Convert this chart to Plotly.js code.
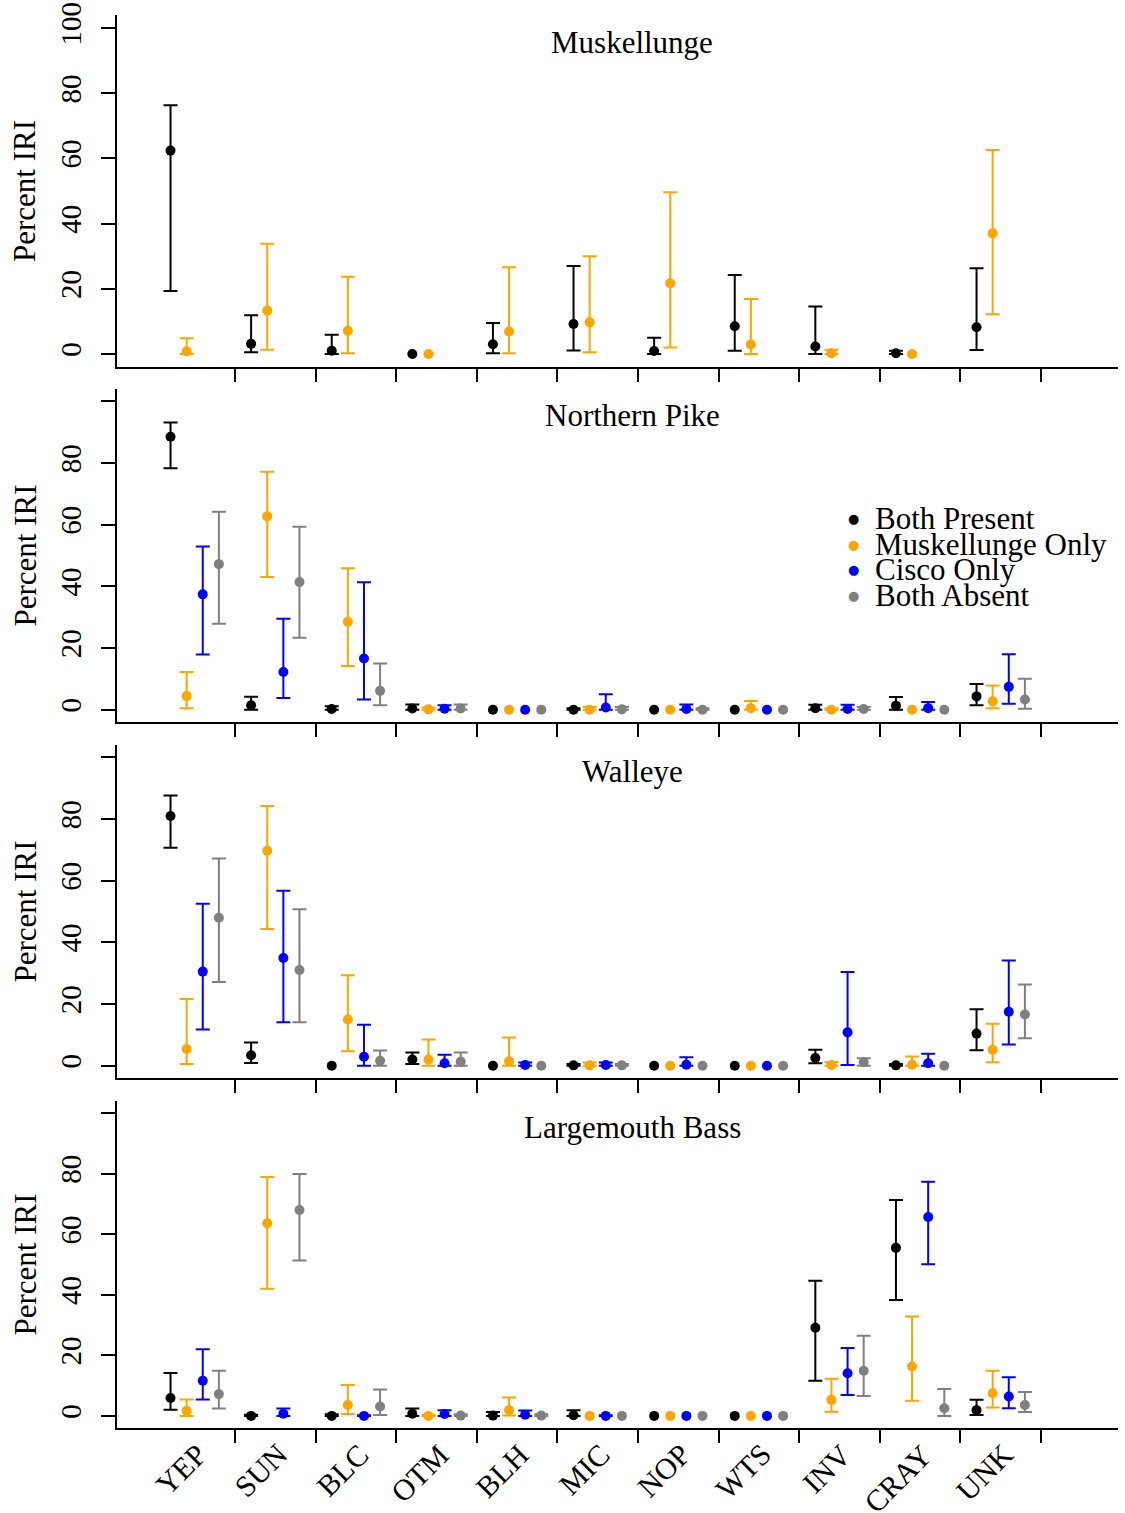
<!DOCTYPE html>
<html>
<head>
<meta charset="utf-8">
<script src="https://cdn.plot.ly/plotly-3.0.1.min.js"></script>
<style>
html,body{margin:0;padding:0;background:#fff;}
#chart{width:1125px;height:1513px;}
</style>
</head>
<body>
<div id="chart"></div>
<script>
// ---------------- DATA ----------------
const categories = ['YEP','SUN','BLC','OTM','BLH','MIC','NOP','WTS','INV','CRAY','UNK'];
const groupNames = ['Both Present','Muskellunge Only','Cisco Only','Both Absent'];
const panelTitles = ['Muskellunge','Northern Pike','Walleye','Largemouth Bass'];

// Muskellunge (only Both Present and Muskellunge Only)
const musk_bothPresent      = [62.4, 3.1, 1.0, 0, 3.0, 9.2, 0.9, 8.5, 2.3, 0.2, 8.2];
const musk_bothPresent_hi   = [76.3, 11.9, 5.9, 0, 9.5, 27.0, 5.0, 24.2, 14.6, 1.0, 26.3];
const musk_bothPresent_lo   = [19.3, 0.5, 0, 0, 0.2, 1.1, 0, 1.0, 0, 0, 1.2];
const musk_muskOnly         = [0.8, 13.3, 7.1, 0, 6.9, 9.7, 21.7, 2.9, 0.2, 0, 37.0];
const musk_muskOnly_hi      = [4.8, 33.8, 23.7, 0, 26.6, 30.0, 49.6, 16.9, 1.3, 0, 62.6];
const musk_muskOnly_lo      = [0, 1.3, 0.2, 0, 0.2, 0.5, 2.0, 0, 0, 0, 12.2];

// Northern Pike
const pike_bothPresent      = [88.5, 1.4, 0.2, 0.4, 0, 0, 0, 0, 0.5, 1.3, 4.3];
const pike_bothPresent_hi   = [93.1, 4.2, 1.1, 1.7, 0, 0.5, 0, 0, 1.6, 4.1, 8.3];
const pike_bothPresent_lo   = [78.3, 0, 0, 0, 0, 0, 0, 0, 0, 0, 1.4];
const pike_muskOnly         = [4.4, 62.7, 28.5, 0.1, 0, 0, 0, 0.5, 0, 0, 2.7];
const pike_muskOnly_hi      = [12.2, 77.2, 45.9, 0.7, 0, 0.9, 0, 2.8, 0.5, 0, 7.8];
const pike_muskOnly_lo      = [0.5, 43.0, 14.2, 0, 0, 0, 0, 0, 0, 0, 0.5];
const pike_ciscoOnly        = [37.4, 12.2, 16.6, 0.3, 0, 0.7, 0.2, 0, 0.2, 0.5, 7.4];
const pike_ciscoOnly_hi     = [52.9, 29.5, 41.3, 1.4, 0, 5.0, 1.7, 0, 1.6, 2.5, 18.0];
const pike_ciscoOnly_lo     = [17.9, 3.8, 3.3, 0, 0, 0, 0, 0, 0, 0, 1.9];
const pike_bothAbsent       = [47.2, 41.4, 6.1, 0.4, 0, 0.1, 0, 0, 0.2, 0, 3.3];
const pike_bothAbsent_hi    = [64.2, 59.3, 15.0, 1.7, 0, 0.9, 0.5, 0, 0.9, 0, 10.0];
const pike_bothAbsent_lo    = [27.9, 23.3, 1.4, 0, 0, 0, 0, 0, 0, 0, 0.3];

// Walleye
const wal_bothPresent       = [81.0, 3.4, 0, 2.0, 0, 0.1, 0, 0, 2.5, 0.1, 10.4];
const wal_bothPresent_hi    = [87.6, 7.5, 0, 4.3, 0, 0.5, 0, 0, 5.2, 0.5, 18.3];
const wal_bothPresent_lo    = [70.7, 0.9, 0, 0.5, 0, 0, 0, 0, 0.8, 0, 5.0];
const wal_muskOnly          = [5.4, 69.7, 15.0, 2.0, 1.4, 0.1, 0, 0, 0.2, 0.3, 5.2];
const wal_muskOnly_hi       = [21.6, 84.2, 29.3, 8.5, 9.1, 1.0, 0, 0, 1.2, 3.0, 13.6];
const wal_muskOnly_lo       = [0.5, 44.3, 4.7, 0, 0, 0, 0, 0, 0, 0, 1.1];
const wal_ciscoOnly         = [30.5, 34.9, 2.9, 0.8, 0.2, 0.2, 0.3, 0, 10.8, 0.8, 17.5];
const wal_ciscoOnly_hi      = [52.5, 56.7, 13.3, 3.5, 1.0, 1.0, 2.7, 0, 30.4, 3.9, 34.1];
const wal_ciscoOnly_lo      = [11.7, 14.1, 0, 0, 0, 0, 0, 0, 0.2, 0, 6.9];
const wal_bothAbsent        = [48.0, 31.0, 1.6, 1.3, 0, 0.1, 0, 0, 1.1, 0, 16.6];
const wal_bothAbsent_hi     = [67.2, 50.7, 4.9, 4.3, 0, 0.5, 0, 0, 2.4, 0, 26.3];
const wal_bothAbsent_lo     = [27.1, 14.1, 0, 0, 0, 0, 0, 0, 0, 0, 8.9];

// Largemouth Bass
const lmb_bothPresent       = [5.9, 0, 0, 0.7, 0.1, 0.2, 0, 0, 29.1, 55.5, 1.9];
const lmb_bothPresent_hi    = [14.2, 0.4, 0.5, 2.4, 1.3, 1.9, 0, 0, 44.6, 71.3, 5.3];
const lmb_bothPresent_lo    = [2.0, 0, 0, 0, 0, 0, 0, 0, 11.6, 38.3, 0.3];
const lmb_muskOnly          = [1.7, 63.6, 3.6, 0, 1.9, 0, 0, 0, 5.3, 16.3, 7.5];
const lmb_muskOnly_hi       = [5.4, 78.9, 10.2, 0.3, 6.1, 0, 0, 0, 12.3, 32.8, 14.9];
const lmb_muskOnly_lo       = [0, 42.0, 0.6, 0, 0.1, 0, 0, 0, 1.4, 5.0, 2.8];
const lmb_ciscoOnly         = [11.6, 0.7, 0, 0.6, 0.4, 0, 0, 0, 14.1, 65.7, 6.4];
const lmb_ciscoOnly_hi      = [22.0, 2.4, 0.2, 1.9, 1.8, 0.2, 0, 0, 22.4, 77.3, 12.8];
const lmb_ciscoOnly_lo      = [5.4, 0, 0, 0, 0, 0, 0, 0, 6.9, 50.1, 2.5];
const lmb_bothAbsent        = [7.2, 68.0, 3.1, 0.1, 0.1, 0, 0, 0, 14.9, 2.5, 3.6];
const lmb_bothAbsent_hi     = [14.9, 79.9, 8.7, 0.5, 0.5, 0, 0, 0, 26.5, 8.9, 7.9];
const lmb_bothAbsent_lo     = [2.4, 51.3, 0.3, 0, 0, 0, 0, 0, 6.6, 0, 1.3];

const yTickVals = [0, 20, 40, 60, 80, 100];
const yTickTextFirst = ['0', '20', '40', '60', '80', '100'];
const yTickTextOther = ['0', '20', '40', '60', '80', ''];

// ---------------- STYLE ----------------
const colors = ['#000000', '#FFA500', '#0000FF', '#808080'];
const offsets = [-0.8, -0.6, -0.4, -0.2];
const FONT = 'Liberation Serif, Times New Roman, serif';
const W = 1125, H = 1513;

const panels = [
  [[musk_bothPresent, musk_bothPresent_hi, musk_bothPresent_lo, 0],
   [musk_muskOnly, musk_muskOnly_hi, musk_muskOnly_lo, 1]],
  [[pike_bothPresent, pike_bothPresent_hi, pike_bothPresent_lo, 0],
   [pike_muskOnly, pike_muskOnly_hi, pike_muskOnly_lo, 1],
   [pike_ciscoOnly, pike_ciscoOnly_hi, pike_ciscoOnly_lo, 2],
   [pike_bothAbsent, pike_bothAbsent_hi, pike_bothAbsent_lo, 3]],
  [[wal_bothPresent, wal_bothPresent_hi, wal_bothPresent_lo, 0],
   [wal_muskOnly, wal_muskOnly_hi, wal_muskOnly_lo, 1],
   [wal_ciscoOnly, wal_ciscoOnly_hi, wal_ciscoOnly_lo, 2],
   [wal_bothAbsent, wal_bothAbsent_hi, wal_bothAbsent_lo, 3]],
  [[lmb_bothPresent, lmb_bothPresent_hi, lmb_bothPresent_lo, 0],
   [lmb_muskOnly, lmb_muskOnly_hi, lmb_muskOnly_lo, 1],
   [lmb_ciscoOnly, lmb_ciscoOnly_hi, lmb_ciscoOnly_lo, 2],
   [lmb_bothAbsent, lmb_bothAbsent_hi, lmb_bothAbsent_lo, 3]]
];

// panel pixel boxes (top, bottom)
const panelPx = [[15, 367], [389, 722], [745, 1078], [1101, 1428]];
const xDomain = [117 / W, 1118 / W];

const traces = [];
panels.forEach((groups, p) => {
  const sfx = p === 0 ? '' : String(p + 1);
  groups.forEach(([vals, hi, lo, g]) => {
    const up = vals.map((v, i) => (hi[i] === v && lo[i] === v) ? NaN : hi[i] - v);
    const dn = vals.map((v, i) => (hi[i] === v && lo[i] === v) ? NaN : v - lo[i]);
    traces.push({
      type: 'scatter', mode: 'markers',
      x: categories.map((c, i) => i + 1 + offsets[g]),
      y: vals,
      name: groupNames[g],
      xaxis: 'x' + sfx, yaxis: 'y' + sfx,
      showlegend: false,
      marker: {color: colors[g], size: 10, line: {width: 0}},
      error_y: {type: 'data', symmetric: false, array: up, arrayminus: dn,
                color: colors[g], thickness: 2, width: 7},
      hoverinfo: 'x+y'
    });
  });
});

const layout = {
  width: W, height: H,
  margin: {l: 0, r: 0, t: 0, b: 0},
  paper_bgcolor: '#fff', plot_bgcolor: '#fff',
  showlegend: false,
  font: {family: FONT, color: '#000', size: 29},
  annotations: [],
  shapes: []
};

panelPx.forEach(([top, bot], p) => {
  const sfx = p === 0 ? '' : String(p + 1);
  layout['xaxis' + sfx] = {
    domain: xDomain, anchor: 'y' + sfx,
    range: [-0.464, 11.955],
    tickvals: categories.map((c, i) => i + 1),
    ticktext: categories.map(() => ''),
    ticks: 'outside', ticklen: 13, tickwidth: 2, tickcolor: '#000',
    showline: true, linewidth: 2, linecolor: '#000',
    showgrid: false, zeroline: false, fixedrange: true
  };
  layout['yaxis' + sfx] = {
    domain: [1 - bot / H, 1 - top / H], anchor: 'x' + sfx,
    range: [-4, 104],
    tickvals: yTickVals,
    ticktext: p === 0 ? yTickTextFirst : yTickTextOther,
    tickangle: -90,
    ticks: 'outside', ticklen: 14, tickwidth: 2, tickcolor: '#000',
    ticklabelstandoff: 8,
    tickfont: {family: FONT, size: 29, color: '#000'},
    showline: true, linewidth: 2, linecolor: '#000',
    showgrid: false, zeroline: false, fixedrange: true
  };
  // y-axis title
  layout.annotations.push({
    xref: 'paper', yref: 'paper',
    x: 25 / W, y: 1 - (top + bot) / 2 / H,
    xanchor: 'center', yanchor: 'middle',
    text: 'Percent IRI', textangle: -90, showarrow: false,
    font: {family: FONT, size: 31, color: '#000'}
  });
});

// panel titles
const titleY = [42, 415, 771, 1127];
panelTitles.forEach((t, p) => {
  layout.annotations.push({
    xref: 'paper', yref: 'paper',
    x: 632 / W, y: 1 - titleY[p] / H,
    xanchor: 'center', yanchor: 'middle',
    text: t, showarrow: false,
    font: {family: FONT, size: 31, color: '#000'}
  });
});

// category labels on bottom panel
categories.forEach((c, i) => {
  layout.annotations.push({
    xref: 'x4', yref: 'paper',
    x: i + 1 - 0.24, y: 1 - 1435 / H,
    xanchor: 'right', yanchor: 'top',
    text: c, textangle: -45, showarrow: false,
    font: {family: FONT, size: 30, color: '#000'}
  });
});

// legend (inside Northern Pike panel)
const legRowY = [518, 544, 569, 595];
groupNames.forEach((g, k) => {
  layout.annotations.push({
    xref: 'paper', yref: 'paper',
    x: 853 / W, y: 1 - legRowY[k] / H,
    xanchor: 'center', yanchor: 'middle',
    text: '●', showarrow: false,
    font: {family: 'DejaVu Sans', size: 13, color: colors[k]}
  });
  layout.annotations.push({
    xref: 'paper', yref: 'paper',
    x: 873 / W, y: 1 - legRowY[k] / H,
    xanchor: 'left', yanchor: 'middle',
    text: g, showarrow: false,
    font: {family: FONT, size: 31, color: '#000'}
  });
});

Plotly.newPlot('chart', traces, layout, {staticPlot: true, displayModeBar: false});
</script>
</body>
</html>
